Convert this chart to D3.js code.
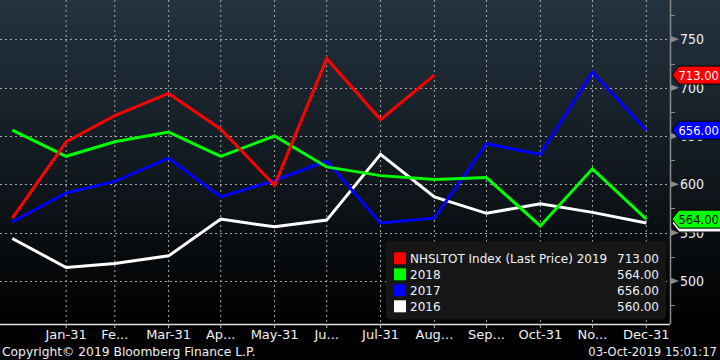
<!DOCTYPE html>
<html><head><meta charset="utf-8">
<script src="https://cdn.jsdelivr.net/npm/d3@7"></script>
<style>html,body{margin:0;padding:0;background:#000;}svg{display:block;}</style>
</head><body>
<svg id="chart" width="720" height="360"></svg>
<script>
const dates = ["2018-12-31","2019-01-31","2019-02-28","2019-03-31","2019-04-30","2019-05-31","2019-06-30","2019-07-31","2019-08-31","2019-09-30","2019-10-31","2019-11-30","2019-12-31"];
const tickLabels = ["Jan-31","Fe...","Mar-31","Ap...","May-31","Ju...","Jul-31","Aug...","Sep...","Oct-31","No...","Dec-31"];
const s2019 = [565, 644, 671, 694, 657, 599, 730, 667, 713];
const s2018 = [656, 629, 644, 654, 629, 650, 618, 609, 605, 607, 557, 616, 564];
const s2017 = [561, 591, 603, 627, 587, 604, 624, 560, 565, 642, 631, 716, 656];
const s2016 = [544, 514, 518, 526, 564, 556, 563, 631, 587, 570, 580, 571, 560];
const seriesNames = ["NHSLTOT Index (Last Price) 2019", "2018", "2017", "2016"];
const seriesColors = ["#ff0000", "#00ff00", "#0000ff", "#ffffff"];
const lastValues = ["713.00", "564.00", "656.00", "560.00"];
const yTicks = [500, 550, 600, 650, 700, 750];
const yMinor = [475, 525, 575, 625, 675, 725, 775];
const copyright = "Copyright\u00A9 2019 Bloomberg Finance L.P.";
const stamp = "03-Oct-2019 15:01:17";

const parse = d3.timeParse("%Y-%m-%d");
const svg = d3.select("#chart");
const W = 720, plotR = 670, plotB = 324;

const x = d3.scaleTime().domain([parse(dates[0]), parse(dates[dates.length-1])]).range([12.3, 646.3]);
const y = d3.scaleLinear().domain([455.5, 790.7]).range([plotB, 0]);

const defs = svg.append("defs");
const g = defs.append("linearGradient").attr("id","bg").attr("x1",0).attr("y1",0).attr("x2",0).attr("y2",1);
g.append("stop").attr("offset","0%").attr("stop-color","#243340");
g.append("stop").attr("offset","100%").attr("stop-color","#000000");

svg.append("rect").attr("width",W).attr("height",360).attr("fill","#000");
svg.append("rect").attr("width",W).attr("height",plotB).attr("fill","url(#bg)");

// grid
const tickDates = dates.slice(1).map(parse);
svg.append("g").selectAll("line").data(tickDates).join("line")
  .attr("x1",d=>x(d)).attr("x2",d=>x(d)).attr("y1",0).attr("y2",plotB)
  .attr("stroke","#a8a8a8").attr("stroke-width",1).attr("stroke-dasharray","2,3");
svg.append("g").selectAll("line").data(yTicks).join("line")
  .attr("x1",0).attr("x2",plotR).attr("y1",d=>Math.round(y(d))+0.5).attr("y2",d=>Math.round(y(d))+0.5)
  .attr("stroke","#a8a8a8").attr("stroke-width",1).attr("stroke-dasharray","2,3");

// right axis
svg.append("line").attr("x1",plotR+0.5).attr("x2",plotR+0.5).attr("y1",0).attr("y2",plotB)
  .attr("stroke","#8a8a8a").attr("stroke-width",1.5);
svg.append("g").selectAll("line").data(yMinor).join("line")
  .attr("x1",plotR).attr("x2",plotR+5).attr("y1",d=>Math.round(y(d))+0.5).attr("y2",d=>Math.round(y(d))+0.5)
  .attr("stroke","#8a8a8a").attr("stroke-width",1);
svg.append("g").selectAll("path").data(yTicks).join("path")
  .attr("d",d=>{const cy=y(d);return `M${plotR},${cy-3.5}L${plotR+9},${cy}L${plotR},${cy+3.5}Z`;})
  .attr("fill","#8a8a8a");
const yFont = "'DejaVu Sans Condensed','DejaVu Sans',sans-serif";
svg.append("g").selectAll("text").data(yTicks).join("text")
  .attr("x",680).attr("y",d=>y(d)).attr("dy","0.36em")
  .attr("font-family",yFont).attr("font-size",14).attr("fill","#e8eef6")
  .text(d=>d);

// bottom axis
svg.append("line").attr("x1",0).attr("x2",plotR).attr("y1",plotB+0.5).attr("y2",plotB+0.5)
  .attr("stroke","#e0e0e0").attr("stroke-width",1.5);
svg.append("g").selectAll("line").data(tickDates).join("line")
  .attr("x1",d=>x(d)).attr("x2",d=>x(d)).attr("y1",plotB).attr("y2",plotB+4)
  .attr("stroke","#bdbdbd").attr("stroke-width",1);
svg.append("g").selectAll("text").data(tickDates).join("text")
  .attr("x",d=>x(d)).attr("y",338.5).attr("text-anchor","middle")
  .attr("font-family","'DejaVu Sans',sans-serif").attr("font-size",13).attr("fill","#f2f2f2")
  .text((d,i)=>tickLabels[i]);

// lines
const allSeries = [s2019, s2018, s2017, s2016];
const line = d3.line().x((d,i)=>x(parse(dates[i]))).y(d=>y(d));
const order = [3,2,1,0];
svg.append("g").selectAll("path").data(order).join("path")
  .attr("d",k=>line(allSeries[k])).attr("fill","none")
  .attr("stroke",k=>seriesColors[k]).attr("stroke-width",3).attr("stroke-linejoin","miter");

// value tags
const tagG = svg.append("g");
order.forEach(k=>{
  const v = +lastValues[k];
  const cy = y(v);
  tagG.append("path")
    .attr("d",`M672,${cy}L679,${cy-9}L721,${cy-9}L721,${cy+9}L679,${cy+9}Z`)
    .attr("fill",seriesColors[k]).attr("stroke","#000").attr("stroke-width",1);
  tagG.append("text").attr("x",678.5).attr("y",cy).attr("dy","0.36em")
    .attr("font-family",yFont).attr("font-size",12.8)
    .attr("fill", k===1||k===3 ? "#000" : "#fff")
    .text(lastValues[k]);
});

// legend
const lg = svg.append("g");
lg.append("rect").attr("x",386).attr("y",241.5).attr("width",280).attr("height",78).attr("rx",4)
  .attr("fill","#161616");
seriesNames.forEach((n,i)=>{
  const cy = 258.3 + i*16;
  lg.append("rect").attr("x",394).attr("y",cy-6).attr("width",12).attr("height",12).attr("fill",seriesColors[i]);
  lg.append("text").attr("x",410).attr("y",cy).attr("dy","0.36em")
    .attr("font-family","'DejaVu Sans',sans-serif").attr("font-size",12).attr("fill","#eef2f8").text(n);
  lg.append("text").attr("x",659).attr("y",cy).attr("dy","0.36em").attr("text-anchor","end")
    .attr("font-family","'DejaVu Sans',sans-serif").attr("font-size",12).attr("fill","#eef2f8").text(lastValues[i]);
});

// footer
svg.append("text").attr("x",2).attr("y",356).attr("font-family","'DejaVu Sans',sans-serif")
  .attr("font-size",12.3).attr("fill","#f0f0f0").text(copyright);
svg.append("text").attr("x",717).attr("y",356).attr("text-anchor","end").attr("font-family","'DejaVu Sans',sans-serif")
  .attr("font-size",11.6).attr("fill","#f0f0f0").text(stamp);
</script>
</body></html>
